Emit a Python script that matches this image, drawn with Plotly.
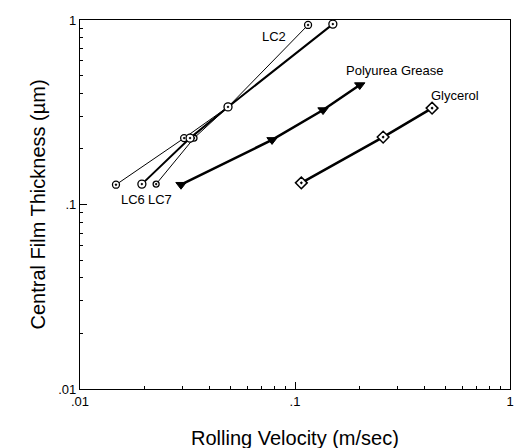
import math
import plotly.graph_objects as go

# ---- data ----
lc2_x = [0.0147, 0.0305, 0.0488, 0.115]
lc2_y = [0.128, 0.229, 0.338, 0.94]
lc6_x = [0.0194, 0.0325, 0.0488, 0.150]
lc6_y = [0.129, 0.229, 0.338, 0.95]
lc7_x = [0.0226, 0.0339, 0.0488, 0.150]
lc7_y = [0.129, 0.229, 0.338, 0.95]
poly_x = [0.0295, 0.0782, 0.135, 0.200]
poly_y = [0.128, 0.224, 0.325, 0.444]
gly_x = [0.107, 0.257, 0.434]
gly_y = [0.131, 0.232, 0.333]

x_tickvals = [0.01, 0.1, 1]
x_ticktext = [".01", ".1", "1"]
y_tickvals = [0.01, 0.1, 1]
y_ticktext = [".01", ".1", "1"]

FONT = "Liberation Sans, Arial, sans-serif"

fig = go.Figure()

def add(x, y, name, symbol, size, width):
    fig.add_trace(go.Scatter(
        x=x, y=y, name=name, mode="lines+markers",
        line=dict(color="black", width=width),
        marker=dict(symbol=symbol, size=size, color="white",
                    line=dict(color="black", width=1.3)),
        cliponaxis=False, showlegend=False))

add(lc2_x, lc2_y, "LC2", "circle-dot", 7, 1)
add(lc7_x, lc7_y, "LC7", "circle-dot", 6, 1)
add(lc6_x, lc6_y, "LC6", "circle-dot", 8, 2)
fig.add_trace(go.Scatter(
    x=poly_x, y=poly_y, name="Polyurea Grease", mode="lines+markers",
    line=dict(color="black", width=2.5),
    marker=dict(symbol="triangle-down", size=9, color="black",
                line=dict(color="black", width=1)),
    cliponaxis=False, showlegend=False))
fig.add_trace(go.Scatter(
    x=gly_x, y=gly_y, name="Glycerol", mode="lines+markers",
    line=dict(color="black", width=2.5),
    marker=dict(symbol="diamond-dot", size=9, color="white",
                line=dict(color="black", width=1.5)),
    cliponaxis=False, showlegend=False))

def label(text, x, y, dx, dy):
    fig.add_annotation(x=math.log10(x), y=math.log10(y),
                       text=text, showarrow=False, xshift=dx, yshift=dy,
                       font=dict(family=FONT, size=13, color="black"))

label("LC2", lc2_x[3], lc2_y[3], -34, -12)
label("LC6", lc6_x[0], lc6_y[0], -9, -15)
label("LC7", lc7_x[0], lc7_y[0], 4, -15)
label("Polyurea Grease", poly_x[3], poly_y[3], 35, 15)
label("Glycerol", gly_x[2], gly_y[2], 23, 13)

# axis titles
fig.add_annotation(xref="paper", yref="paper", x=0.5, y=-0.133, yanchor="middle",
                   text="Rolling Velocity (m/sec)", showarrow=False,
                   font=dict(family=FONT, size=20, color="black"))
fig.add_annotation(xref="paper", yref="paper", x=-0.1, y=0.5, xanchor="center",
                   yanchor="middle", textangle=-90,
                   text="Central Film Thickness (µm)", showarrow=False,
                   font=dict(family=FONT, size=20, color="black"))

minor_vals = [k * 10 ** e for e in (-2, -1) for k in range(2, 10)]

axis_common = dict(
    type="log", range=[-2, 0], showgrid=False, zeroline=False,
    showline=True, linecolor="black", linewidth=1.2, mirror=True,
    ticks="inside", ticklen=7, tickcolor="black", tickwidth=1,
    tickfont=dict(family=FONT, size=13, color="black"),
    minor=dict(ticks="inside", ticklen=3, tickcolor="black",
               tickvals=minor_vals, showgrid=False),
    automargin=False, ticklabeloverflow="allow",
)

fig.update_xaxes(**axis_common, tickmode="array",
                 tickvals=x_tickvals, ticktext=x_ticktext)
fig.update_yaxes(**axis_common, tickmode="array",
                 tickvals=y_tickvals, ticktext=y_ticktext)

fig.update_layout(
    width=515, height=448,
    margin=dict(l=80, r=5, t=20, b=59),
    paper_bgcolor="white", plot_bgcolor="white",
    font=dict(family=FONT, color="black"),
)

fig.write_html(
    "out.html",
    config={"displayModeBar": False},
    post_script="document.body.style.margin='0';document.body.style.overflow='hidden';",
)
